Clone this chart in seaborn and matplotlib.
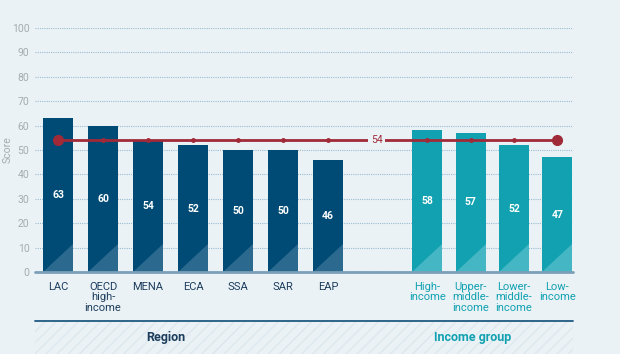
import numpy as np
import pandas as pd
import seaborn as sns
import matplotlib.pyplot as plt
from matplotlib.patches import Polygon, Rectangle

# data
region_labels = ["LAC", "OECD\nhigh-\nincome", "MENA", "ECA", "SSA", "SAR", "EAP"]
region_scores = [63, 60, 54, 52, 50, 50, 46]
income_labels = ["High-\nincome", "Upper-\nmiddle-\nincome", "Lower-\nmiddle-\nincome", "Low-\nincome"]
income_scores = [58, 57, 52, 47]
average_score = 54
y_ticks = [0, 10, 20, 30, 40, 50, 60, 70, 80, 90, 100]

BG = "#eaf2f6"
DARK = "#004b76"
TEAL = "#12a1b1"
RED = "#a12a38"
GRAY = "#a6abb0"

sns.set_theme(style="white")
plt.rcParams["font.family"] = ["Roboto", "DejaVu Sans"]
plt.rcParams["hatch.linewidth"] = 1.0

# bar positions: regions, a gap, then income groups (slightly tighter)
region_pos = list(np.arange(len(region_labels), dtype=float))
income_pos = [8.2 + 0.965 * i for i in range(len(income_labels))]

df = pd.DataFrame({
    "pos": region_pos + income_pos,
    "score": region_scores + income_scores,
    "group": ["Region"] * len(region_labels) + ["Income group"] * len(income_labels),
})

fig = plt.figure(figsize=(6.2, 3.54), dpi=100, facecolor=BG)
ax = fig.add_axes([35 / 620, 1 - 272 / 354, 538 / 620, 244 / 354])
ax.set_facecolor(BG)

sns.barplot(data=df, x="pos", y="score", hue="group", native_scale=True,
            palette={"Region": DARK, "Income group": TEAL}, saturation=1,
            width=0.69, dodge=False, legend=False, ax=ax, zorder=2,
            linewidth=0, edgecolor="none")

# lighter triangle at the foot of each bar, plus the value label
for patch, score, grp in zip(ax.patches, df["score"], df["group"]):
    x0, w = patch.get_x(), patch.get_width()
    light = "#2b6a8e" if grp == "Region" else "#45b6c3"
    ax.add_patch(Polygon([(x0, 0), (x0 + w, 0), (x0 + w, 11.5)], closed=True,
                         facecolor=light, edgecolor="none", zorder=3))
    ax.text(x0 + w / 2, score / 2, str(score), color="white", fontsize=7.5,
            fontweight="bold", ha="center", va="center", zorder=4)

# average line
all_pos = df["pos"].tolist()
ax.plot([all_pos[0], all_pos[-1]], [average_score] * 2, color=RED, lw=2, zorder=5)
ax.plot(all_pos, [average_score] * len(all_pos), ls="none", marker="o",
        ms=2.5, color=RED, zorder=5)
ax.plot([all_pos[0], all_pos[-1]], [average_score] * 2, ls="none", marker="o",
        ms=7, color=RED, zorder=6)
ax.text((region_pos[-1] + income_pos[0]) / 2 - 0.02, average_score, str(average_score),
        color=RED, fontsize=7.5, ha="center", va="center", zorder=7,
        bbox=dict(boxstyle="square,pad=0.25", facecolor=BG, edgecolor="none"))

# axes styling
ax.set_ylim(0, 100)
ax.set_xlim(-0.511, 11.44)
ax.set_yticks(y_ticks)
ax.tick_params(axis="y", length=0, labelsize=7.5, labelcolor=GRAY, pad=4)
ax.grid(axis="y", color="#9bbdd1", lw=0.8, ls=(0, (1, 1)), zorder=0)
for s in ax.spines.values():
    s.set_visible(False)
ax.axhline(0, color="#7b9fb8", lw=2, zorder=6, clip_on=False)
ax.set_ylabel("Score", color=GRAY, fontsize=7.5)
ax.yaxis.set_label_coords(-0.041, 0.5)

ax.set_xticks(all_pos)
ax.set_xticklabels(region_labels + income_labels, fontsize=8, linespacing=1.05, va="top")
for lbl, grp in zip(ax.get_xticklabels(), df["group"]):
    lbl.set_color("#1d3d5c" if grp == "Region" else TEAL)
ax.tick_params(axis="x", length=0, pad=7)
ax.set_xlabel("")

# group strip below the chart, faint diagonal hatching
fig.add_artist(Rectangle((35 / 620, 0), 538 / 620, 1 - 322 / 354, facecolor=BG,
                         edgecolor="#dde8ee", lw=0, hatch="///",
                         transform=fig.transFigure))
fig.add_artist(plt.Line2D([35 / 620, 573 / 620], [1 - 321 / 354] * 2,
                          color="#1f5a80", lw=1.3))
fig.text(166 / 620, 1 - 337 / 354, "Region", color="#1d3d5c", fontsize=9,
         fontweight="bold", ha="center", va="center")
fig.text(473 / 620, 1 - 337 / 354, "Income group", color=TEAL, fontsize=9,
         fontweight="bold", ha="center", va="center")

fig.savefig("out.png", dpi=100, facecolor=BG)
